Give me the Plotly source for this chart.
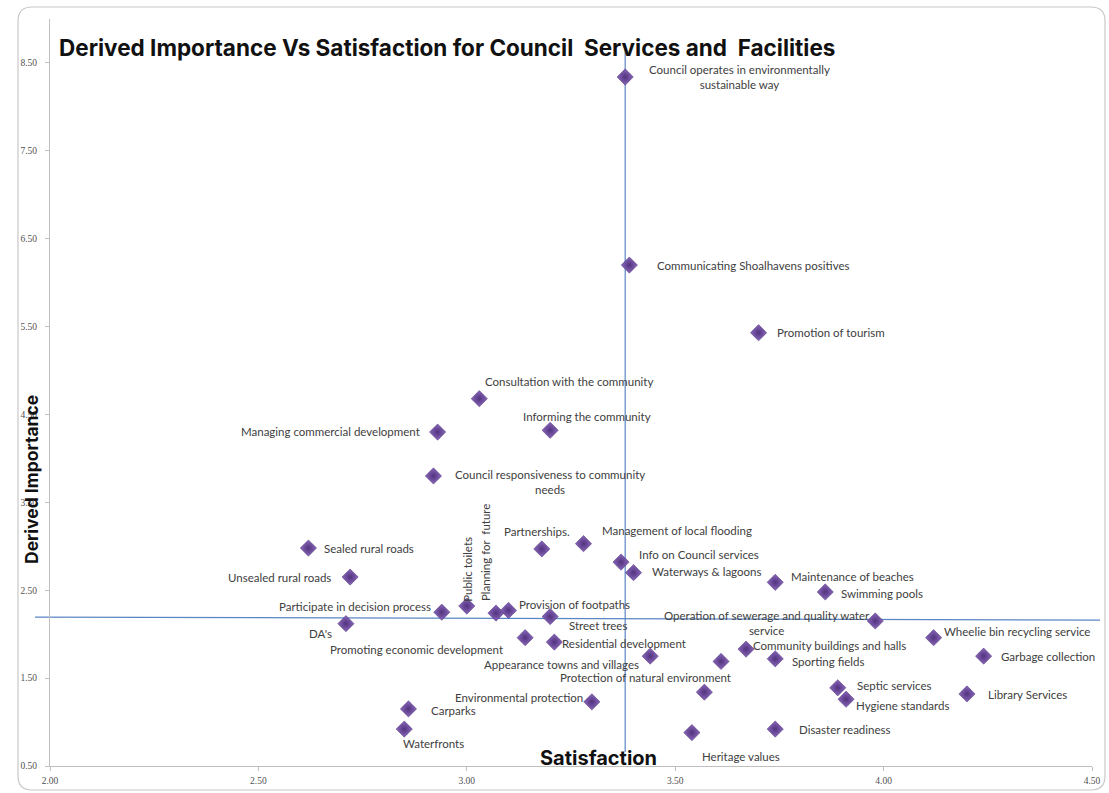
import plotly.graph_objects as go

# ---------------- data ----------------
services = [
    "Council operates in environmentally<br>sustainable way",
    "Communicating Shoalhavens positives",
    "Promotion of tourism",
    "Consultation with the community",
    "Managing commercial development",
    "Informing the community",
    "Council responsiveness to community<br>needs",
    "Sealed rural roads",
    "Unsealed rural roads",
    "Partnerships.",
    "Management of local flooding",
    "Info on Council services",
    "Waterways & lagoons",
    "Maintenance of beaches",
    "Swimming pools",
    "Participate in decision process",
    "Public toilets",
    "Planning for\u00a0 future",
    "Provision of footpaths",
    "Street trees",
    "DA's",
    "Promoting economic development",
    "Residential development",
    "Appearance towns and villages",
    "Protection of natural environment",
    "",
    "Community buildings and halls",
    "Sporting fields",
    "Operation of sewerage and quality water<br>service",
    "Wheelie bin recycling service",
    "Garbage collection",
    "Septic services",
    "Hygiene standards",
    "Library Services",
    "Environmental protection",
    "Carparks",
    "Waterfronts",
    "Heritage values",
    "Disaster readiness",
]
satisfaction = [3.38, 3.39, 3.70, 3.03, 2.93, 3.20, 2.92, 2.62, 2.72, 3.18,
                3.28, 3.37, 3.40, 3.74, 3.86, 2.94, 3.00, 3.07, 3.10, 3.20,
                2.71, 3.14, 3.21, 3.44, 3.57, 3.61, 3.67, 3.74, 3.98, 4.12,
                4.24, 3.89, 3.91, 4.20, 3.30, 2.86, 2.85, 3.54, 3.74]
importance = [8.34, 6.20, 5.43, 4.68, 4.30, 4.32, 3.80, 2.98, 2.65, 2.97,
              3.03, 2.82, 2.70, 2.59, 2.48, 2.25, 2.32, 2.24, 2.27, 2.20,
              2.12, 1.96, 1.91, 1.75, 1.34, 1.69, 1.83, 1.72, 2.15, 1.96,
              1.75, 1.39, 1.26, 1.32, 1.23, 1.15, 0.92, 0.88, 0.92]

x_ticks = [2.00, 2.50, 3.00, 3.50, 4.00, 4.50]
y_ticks = [0.50, 1.50, 2.50, 3.50, 4.50, 5.50, 6.50, 7.50, 8.50]

sat_mean = 3.38            # vertical reference line
imp_mean_left = 2.195      # horizontal reference line (slightly sloped)
imp_mean_right = 2.16

# ---------------- label placement (layout only) ----------------
# per label: (xanchor, xshift px, yshift px, angle)
label_place = [
    ("center", 114, 0, 0), ("left", 26, 0, 0), ("left", 16, 0, 0),
    ("center", 90, 17, 0), ("right", -16, 1, 0), ("center", 37, 14, 0),
    ("center", 117, -6, 0), ("left", 14, 0, 0), ("right", -17, 0, 0),
    ("center", -5, 17, 0), ("left", 16, 13, 0), ("left", 16, 8, 0),
    ("left", 16, 1, 0), ("left", 14, 6, 0), ("left", 14, -2, 0),
    ("right", -9, 6, 0), ("center", 0, 37, -90), ("center", -11, 61, -90),
    ("left", 9, 6, 0), ("left", 17, -9, 0), ("center", -25, -10, 0),
    ("right", -20, -12, 0), ("left", 6, -1, 0), ("right", -9, -8, 0),
    ("right", 29, 15, 0), ("left", 0, 0, 0), ("left", 5, 4, 0),
    ("left", 15, -3, 0), ("center", -108, -2, 0), ("left", 8, 6, 0),
    ("left", 15, 0, 0), ("left", 17, 2, 0), ("left", 8, -6, 0),
    ("left", 19, -1, 0), ("right", -7, 4, 0), ("left", 21, -2, 0),
    ("center", 29, -14, 0), ("center", 49, -24, 0), ("left", 22, 0, 0),
]

W, H = 1109, 793
ML, MR, MT, MB = 50, 17, 19, 27
PW, PH = W - ML - MR, H - MT - MB


def px(xp):
    return (xp - ML) / PW


def py(yp):
    return (H - MB - yp) / PH


label_font = dict(family="Lato, Open Sans, sans-serif", size=11.5, color="#404040")
bold_font = "Inter, Lato, sans-serif"

fig = go.Figure()
fig.add_trace(go.Scatter(
    x=satisfaction, y=importance, mode="markers",
    marker=dict(symbol="diamond", size=12.5, color="#8a68bd",
                gradient=dict(type="radial", color="#52337d"),
                line=dict(width=0.5, color="#4a2d75")),
    hoverinfo="skip", showlegend=False,
))

annotations = []
for name, xv, yv, (xa, dx, dy, ang) in zip(services, satisfaction, importance, label_place):
    if not name:
        continue
    annotations.append(dict(
        x=xv, y=yv, xref="x", yref="y", text=name, showarrow=False,
        xanchor=xa, yanchor="middle", xshift=dx, yshift=dy, textangle=ang,
        align="center", font=label_font,
    ))

# title and axis titles
annotations.append(dict(
    x=px(57), y=py(47), xref="paper", yref="paper", xanchor="left", yanchor="middle",
    text="<b>Derived Importance Vs Satisfaction for Council\u00a0 Services and\u00a0 Facilities</b>",
    showarrow=False, font=dict(family=bold_font, size=22.5, color="#111111"),
))
annotations.append(dict(
    x=px(598), y=py(758), xref="paper", yref="paper", xanchor="center", yanchor="middle",
    text="<b>Satisfaction</b>", showarrow=False,
    font=dict(family=bold_font, size=20, color="#111111"),
))
annotations.append(dict(
    x=px(31), y=py(480), xref="paper", yref="paper", xanchor="center", yanchor="middle",
    text="<b>Derived Importance</b>", showarrow=False, textangle=-90,
    font=dict(family=bold_font, size=17.5, color="#111111"),
))

# outer rounded chart frame
L, R, T, B, r = 18, 1105, 7, 790, 14
frame = (f"M {px(L)},{py(T + r)} Q {px(L)},{py(T)} {px(L + r)},{py(T)} "
         f"L {px(R - r)},{py(T)} Q {px(R)},{py(T)} {px(R)},{py(T + r)} "
         f"L {px(R)},{py(B - r)} Q {px(R)},{py(B)} {px(R - r)},{py(B)} "
         f"L {px(L + r)},{py(B)} Q {px(L)},{py(B)} {px(L)},{py(B - r)} Z")

shapes = [
    dict(type="path", path=frame, xref="paper", yref="paper",
         line=dict(color="#c8c8c8", width=1.2), layer="below"),
    dict(type="line", xref="x", yref="y", x0=sat_mean, x1=sat_mean, y0=0.66, y1=8.70,
         line=dict(color="#5b86c4", width=1.2), layer="below"),
    dict(type="line", xref="paper", yref="y", x0=px(35), x1=px(1100),
         y0=imp_mean_left, y1=imp_mean_right,
         line=dict(color="#5b86c4", width=1.2), layer="below"),
]

tick_font = dict(family="Liberation Serif, serif", size=9.5, color="#505050")

fig.update_layout(
    width=W, height=H,
    margin=dict(l=ML, r=MR, t=MT, b=MB, autoexpand=False),
    paper_bgcolor="white", plot_bgcolor="white",
    annotations=annotations, shapes=shapes,
    xaxis=dict(range=[2.0, 4.5], tickvals=x_ticks,
               ticktext=[f"{v:.2f}" for v in x_ticks],
               showgrid=False, zeroline=False, showline=True,
               linecolor="#bfbfbf", linewidth=1, ticks="outside",
               ticklen=4, tickcolor="#bfbfbf", tickfont=tick_font,
               ticklabelstandoff=2, automargin=False),
    yaxis=dict(range=[0.5, 9.0], tickvals=y_ticks,
               ticktext=[f"{v:.2f}" for v in y_ticks],
               showgrid=False, zeroline=False, showline=True,
               linecolor="#bfbfbf", linewidth=1, ticks="outside",
               ticklen=4, tickcolor="#bfbfbf", tickfont=tick_font,
               ticklabelstandoff=6, automargin=False),
)

fig.write_html("out.html")
